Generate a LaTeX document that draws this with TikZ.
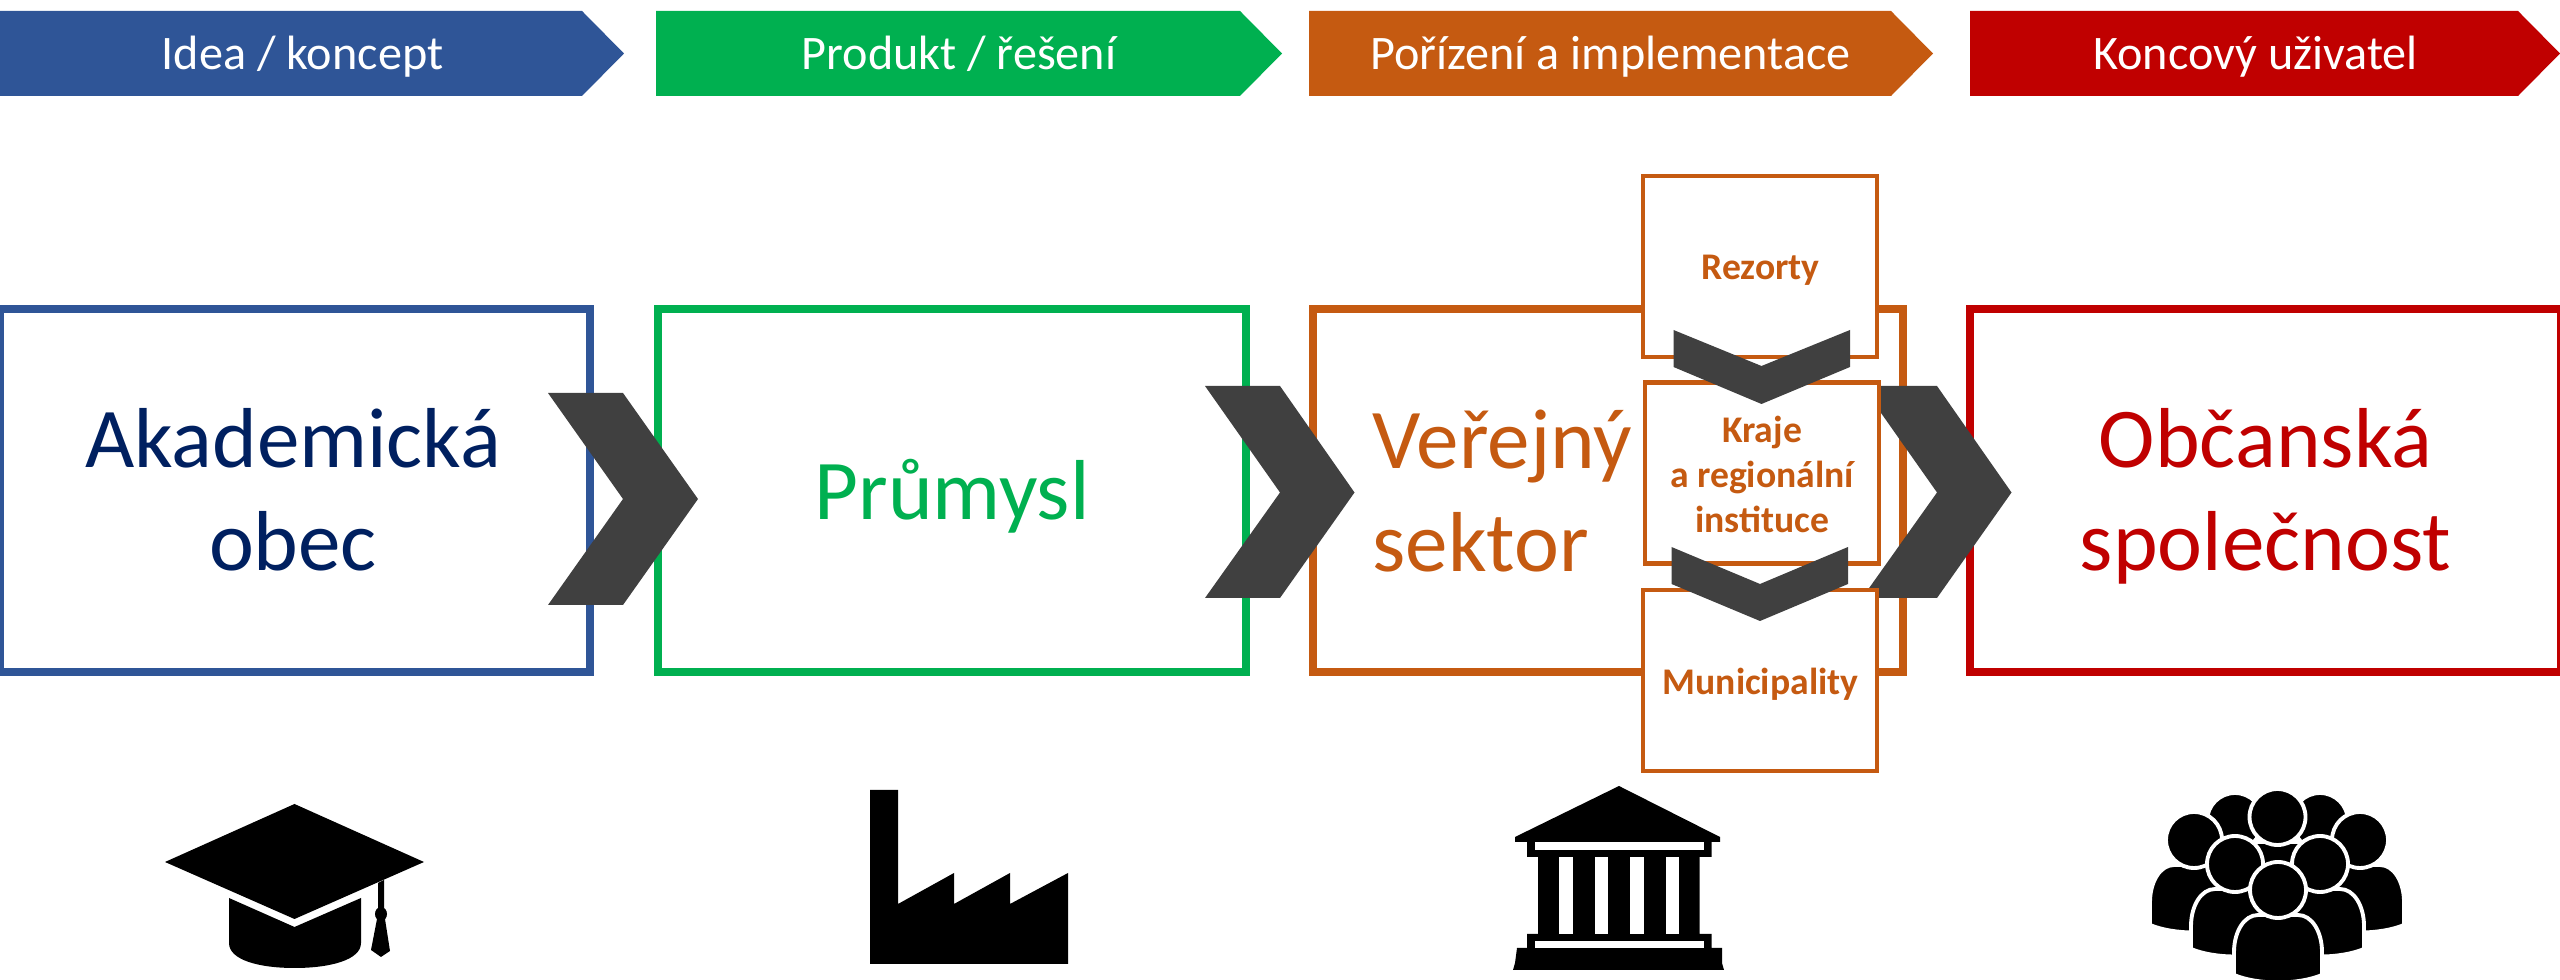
\documentclass[tikz,border=0pt]{standalone}
\usepackage{fontspec}
\setmainfont{Carlito}

\definecolor{hblue}{HTML}{2F5597}
\definecolor{hnavy}{HTML}{002060}
\definecolor{hgreen}{HTML}{00B050}
\definecolor{horange}{HTML}{C55A11}
\definecolor{hred}{HTML}{C00000}
\definecolor{hgray}{HTML}{404040}

\tikzset{
	headtext/.style={anchor=base, text=white, inner sep=0pt, font=\fontsize{13.7}{16.5}\selectfont},
	bigbox/.style={draw, line width=2.25pt, inner sep=0pt, minimum height=3.625cm},
	bigtext/.style={anchor=base, inner sep=0pt, align=center, font=\fontsize{24.2}{29.3}\selectfont},
	smallbox/.style={draw=horange, fill=white, line width=1.2pt, inner sep=0pt, minimum width=2.34cm, minimum height=1.81cm},
	smalltext/.style={anchor=base, inner sep=0pt, align=center, text=horange, font=\fontsize{10.7}{12.9}\selectfont\bfseries},
	chev/.style={fill=hgray},
	icon/.style={fill=black},
	personfig/.style={fill=black, draw=white, line width=1.1pt}
}

\newcommand{\person}[2]{
	\filldraw[personfig] (#1-44,#2+85) -- (#1-44,#2+62) .. controls (#1-44,#2+42) and (#1-34,#2+25) .. (#1-20,#2+25) -- (#1+20,#2+25) .. controls (#1+34,#2+25) and (#1+44,#2+42) .. (#1+44,#2+62) -- (#1+44,#2+85) .. controls (#1+20,#2+95) and (#1-20,#2+95) .. cycle;
	\filldraw[personfig] (#1,#2) circle [radius=28];
}

\begin{document}
\begin{tikzpicture}[x=0.01cm, y=-0.01cm]
	\useasboundingbox (0,0) rectangle (2560,980);

	% header arrows
	\fill[hblue] (0,11) -- (582,11) -- (624,53.5) -- (582,96) -- (0,96) -- cycle;
	\fill[hgreen] (656,11) -- (1240,11) -- (1282,53.5) -- (1240,96) -- (656,96) -- cycle;
	\fill[horange] (1309,11) -- (1891,11) -- (1933,53.5) -- (1891,96) -- (1309,96) -- cycle;
	\fill[hred] (1970,11) -- (2518,11) -- (2560,53.5) -- (2518,96) -- (1970,96) -- cycle;

	\node (idea) [headtext] at (302.5,70) {Idea / koncept};
	\node (produkt) [headtext] at (959,70) {Produkt / řešení};
	\node (porizeni) [headtext] at (1610.5,70) {Pořízení a implementace};
	\node (koncovy) [headtext] at (2255.5,70) {Koncový uživatel};

	% main boxes
	\node (akademicka) [bigbox, draw=hblue, minimum width=5.905cm] at (295,490.75) {};
	\node (prumysl) [bigbox, draw=hgreen, minimum width=5.88cm] at (952,490.75) {};
	\node (verejny) [bigbox, draw=horange, minimum width=5.895cm] at (1608,490.75) {};
	\node (obcanska) [bigbox, draw=hred, minimum width=5.905cm] at (2265.5,490.75) {};

	\node (akademickatext) [bigtext, text=hnavy] at (293,571) {Akademická\\obec};
	\node (prumysltext) [bigtext, text=hgreen] at (952,519.5) {Průmysl};
	\node (verejnytext) [bigtext, text=horange, align=left, anchor=base west] at (1372,571.5) {Veřejný\\sektor};
	\node (obcanskatext) [bigtext, text=hred] at (2265.5,571) {Občanská\\společnost};

	% arrows between boxes
	\fill[chev] (548,393) -- (623,393) -- (698,499) -- (623,605) -- (548,605) -- (623,499) -- cycle;
	\fill[chev] (1205,386) -- (1280,386) -- (1354.5,492.5) -- (1280,598) -- (1205,598) -- (1280,492.5) -- cycle;
	\fill[chev] (1862,386) -- (1937,386) -- (2011.5,492.5) -- (1937,598) -- (1862,598) -- (1937,492.5) -- cycle;

	% public sector levels
	\node (rezorty) [smallbox] at (1760,266.5) {};
	\node (kraje) [smallbox] at (1762,473) {};
	\node (municipality) [smallbox] at (1760,680.5) {};

	\node (rezortytext) [smalltext] at (1760.5,280) {Rezorty};
	\node (krajetext) [smalltext] at (1762,533) {Kraje\\a regionální\\instituce};
	\node (municipalitytext) [smalltext] at (1760.5,695) {Municipality};

	\fill[chev] (1673.5,330) -- (1761.5,366) -- (1850,330) -- (1850,367) -- (1761.5,404) -- (1673.5,367) -- cycle;
	\fill[chev] (1671.5,547) -- (1760,584) -- (1848,547) -- (1848,584) -- (1760,621) -- (1671.5,584) -- cycle;

	% graduation cap
	\fill[icon] (294.5,804) -- (424,862) -- (294.5,919) -- (165,862) -- cycle;
	\fill[icon] (229,898) -- (294.5,927) -- (361,898) -- (361,943) .. controls (361,960) and (330,968) .. (294.5,968) .. controls (259,968) and (229,960) .. (229,943) -- cycle;
	\fill[icon] (378,883) -- (384,880) -- (384,908) -- (378,908) -- cycle;
	\fill[icon] (381,914) ellipse [x radius=6, y radius=7];
	\fill[icon] (377,919) -- (385,919) -- (390,951) -- (381,957) -- (371,950) -- cycle;

	% factory
	\fill[icon] (870,790) -- (898,790) -- (898,904) -- (954,873) -- (954,904) -- (1010,873) -- (1010,904) -- (1068,873) -- (1068,964) -- (870,964) -- cycle;

	% building
	\fill[icon] (1619,786) -- (1720,837) -- (1720,842) -- (1711.5,842) -- (1711.5,857) -- (1699.5,857) -- (1699.5,934) -- (1711.5,934) -- (1711.5,948) -- (1722,948) -- (1722,963) -- (1724,970) -- (1513,970) -- (1515,963) -- (1517,948) -- (1527,948) -- (1527,934) -- (1538,934) -- (1538,857) -- (1527,857) -- (1527,842) -- (1515,842) -- (1515,837) -- cycle;
	\foreach \barx in {1559,1594.5,1630,1665.5}
		\fill[white] (\barx,857) rectangle (\barx+13.5,934);
	\fill[white] (1534.5,842.5) rectangle (1704,850);
	\fill[white] (1534.5,941.5) rectangle (1704,948);

	% people
	\person{2235}{821}
	\person{2320}{821}
	\person{2277.5}{817}
	\person{2194}{840}
	\person{2360}{840}
	\person{2235}{864}
	\person{2320}{864}
	\person{2278}{890}
\end{tikzpicture}
\end{document}
